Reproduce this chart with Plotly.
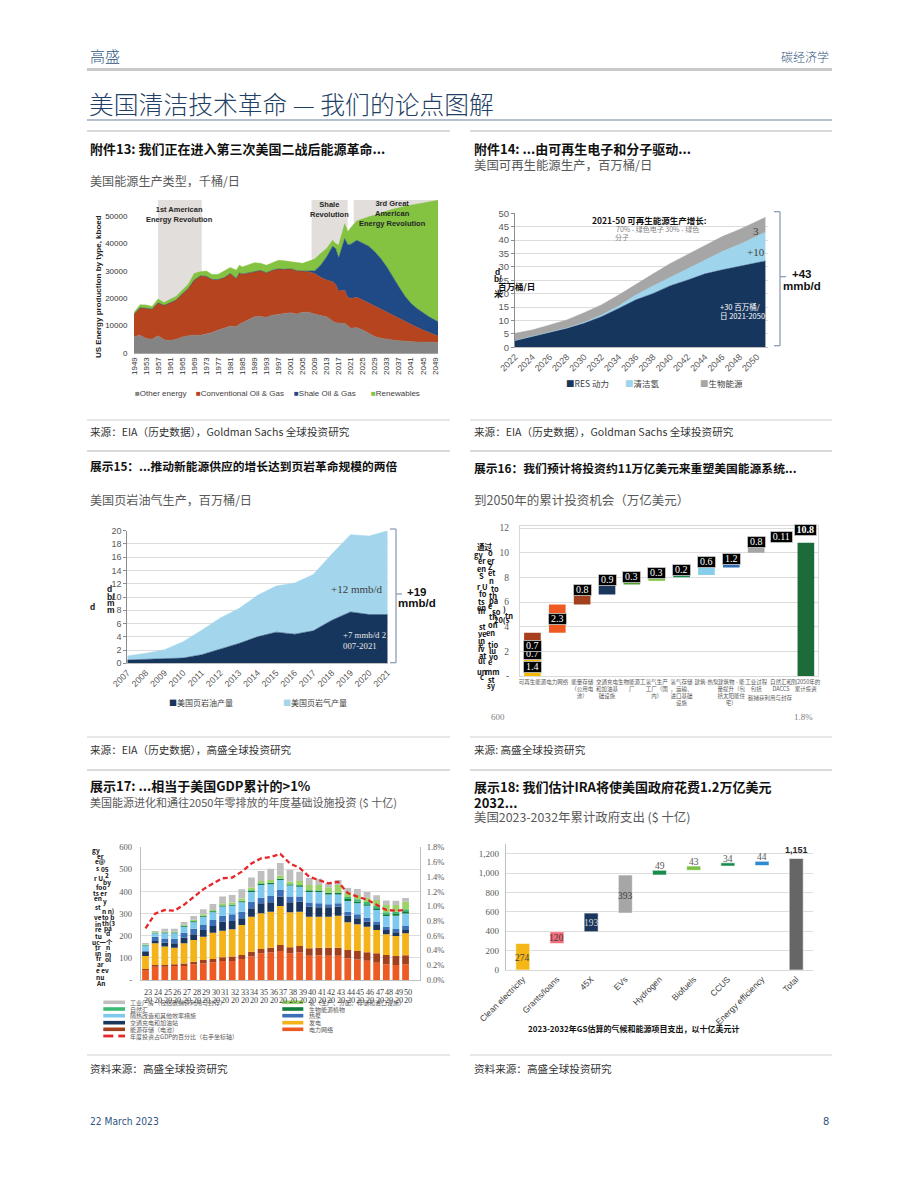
import plotly.graph_objects as go

W, H = 920, 1183
CJK = "Noto Sans CJK SC"
SANS = "Liberation Sans, Arial, sans-serif"
SERIF = "Liberation Serif, DejaVu Serif, serif"
NARROW = "Liberation Sans Narrow, DejaVu Sans Condensed, Roboto Condensed, Liberation Sans, sans-serif"
HDR = "#2f5380"
TITLE = "#1f3f66"
GRAY = "#595959"

# ---------------- Exhibit 13 data (kboed) ----------------
years13 = [1949, 1951, 1953, 1955, 1957, 1959, 1961, 1963, 1965, 1967, 1969, 1971, 1973, 1975, 1977, 1979,
           1981, 1983, 1984, 1985, 1987, 1989, 1991, 1993, 1995, 1997, 1999, 2001, 2003, 2005, 2007, 2009,
           2011, 2013, 2015, 2016, 2017, 2019, 2020, 2021, 2023, 2025, 2027, 2029, 2031, 2033, 2035, 2037,
           2039, 2041, 2043, 2045, 2047, 2049, 2050]
other13 = [6000, 6500, 5300, 5000, 6300, 4800, 4600, 5000, 5800, 6300, 6500, 6500, 6900, 7500, 8400, 9000,
           9800, 9600, 10500, 11000, 12000, 13200, 13300, 13000, 13800, 14200, 14400, 14700, 14200, 14900, 14900, 14200,
           13700, 13200, 11700, 11000, 10900, 10800, 10000, 9000, 9300, 8400, 7200, 6000, 5400, 5000, 4700, 4500,
           4300, 4100, 4000, 4000, 3900, 3900, 3900]
conv13 = [8100, 10000, 11000, 11000, 12000, 12600, 13700, 14300, 15700, 17200, 20100, 21600, 21100, 19300, 18400, 18500,
          19200, 17600, 18700, 17800, 17200, 16400, 16800, 16300, 16400, 16500, 16100, 16000, 15900, 15000, 14700, 14800,
          13900, 13400, 14300, 14000, 11700, 12100, 10300, 10900, 11000, 10900, 11000, 10900, 10400, 9700, 8900, 8100,
          7200, 6300, 5400, 4400, 3700, 2900, 2300]
shale13 = [0, 0, 0, 0, 0, 0, 0, 0, 0, 0, 0, 0, 0, 0, 0, 0,
           0, 0, 0, 0, 0, 0, 0, 0, 0, 0, 0, 0, 0, 0, 300, 950,
           4400, 8400, 12950, 13100, 12100, 18850, 19300, 19800, 20850, 20600, 20750, 20000, 18650, 16700, 13950, 11550,
           9250, 7700, 6850, 6300, 5600, 5200, 5200]
renew13 = [700, 1100, 1200, 1000, 1400, 1000, 1300, 1300, 1400, 1500, 2400, 1500, 1900, 1800, 1900, 2600,
           2200, 3000, 2800, 2600, 2900, 3300, 2600, 2700, 2700, 3100, 3100, 2600, 2800, 2800, 3600, 4300,
           4300, 3100, 2200, 1800, 4600, 5400, 4600, 6000, 7000, 9100, 10700, 13350, 16650, 20400, 24850, 28850,
           32750, 35800, 38100, 40000, 42000, 43700, 44300]
names13 = ["Other energy", "Conventional Oil & Gas", "Shale Oil & Gas", "Renewables"]
colors13 = ["#848484", "#b5441f", "#1f4a86", "#84c341"]
ticks13x = [1949, 1953, 1957, 1961, 1965, 1969, 1973, 1977, 1981, 1985, 1989, 1993, 1997, 2001, 2005, 2009,
            2013, 2017, 2021, 2025, 2029, 2033, 2037, 2041, 2045, 2049]
ticks13y = [0, 10000, 20000, 30000, 40000, 50000]
eras13 = [(1957, 1971.5, "1st American<br>Energy Revolution", 215),
          (2008, 2020, "Shale<br>Revolution", 209.5),
          (2022, 2050, "3rd Great<br>American<br>Energy Revolution", 214)]

# ---------------- Exhibit 14 data (mmb/d) ----------------
years14 = [2022, 2024, 2026, 2028, 2030, 2032, 2034, 2036, 2038, 2040, 2042, 2044, 2046, 2048, 2050, 2051]
res14 = [2.5, 4.0, 5.6, 7.1, 9.0, 11.4, 14.5, 17.7, 20.1, 23.0, 25.1, 27.4, 28.9, 30.3, 31.6, 32.2]
h2_14 = [0, 0, 0, 0.1, 0.3, 0.6, 0.9, 1.8, 2.8, 3.1, 4.4, 5.2, 6.8, 8.1, 9.9, 10.7]
bio14 = [2.7, 2.5, 2.7, 3.0, 3.6, 3.8, 4.1, 3.8, 4.5, 5.2, 5.2, 5.6, 5.6, 5.6, 5.4, 5.6]
names14 = ["RES 动力", "清洁氢", "生物能源"]
colors14 = ["#17365d", "#9fd5ec", "#a6a6a6"]
ticks14x = [2022, 2024, 2026, 2028, 2030, 2032, 2034, 2036, 2038, 2040, 2042, 2044, 2046, 2048, 2050]

# ---------------- Exhibit 15 data (mmb/d) ----------------
years15 = [2007, 2008, 2009, 2010, 2011, 2012, 2013, 2014, 2015, 2016, 2017, 2018, 2019, 2020, 2021]
oil15 = [0.5, 0.6, 0.65, 0.8, 1.3, 2.15, 3.0, 4.0, 4.7, 4.4, 4.9, 6.5, 7.75, 7.35, 7.35]
gas15 = [0.6, 0.9, 1.4, 2.45, 3.7, 4.7, 5.25, 6.25, 6.95, 7.7, 8.5, 10.0, 11.65, 11.85, 12.65]
names15 = ["美国页岩油产量", "美国页岩气产量"]
colors15 = ["#17365d", "#a3d6ec"]

# ---------------- Exhibit 16 data (US$ tn) ----------------
cats16 = ["可再生能源", "电力网络", "能量存储<br>（公用电<br>池）", "交通充电<br>和加油基<br>础设施",
          "生物能源工<br>厂", "氢气生产<br>工厂（国<br>内）", "氢气存储<br>，运输、<br>进口基础<br>设施",
          "建筑-热泵", "建筑物 - 能<br>量提升（包<br>括太阳能住<br>宅）", "工业过程<br>包括",
          "自然汇和<br>DACCS", "到2050年的<br>累计投资"]
renew_parts16 = [1.4, 0.7, 0.7, 0.7]
renew_labels16 = ["1.4", "0.7", "0.7"]
renew_colors16 = ["#f5b800", "#7f5f00", "#4a3a18", "#a8401f"]
base16 = [3.5, 5.8, 6.6, 7.43, 7.73, 8.0, 8.19, 8.8, 10.0, 10.78, 0]
top16 = [5.8, 6.6, 7.4, 7.65, 7.97, 8.19, 8.86, 9.05, 10.5, 10.84, 10.8]
labels16 = ["2.3", "0.8", "0.9", "0.3", "0.3", "0.2", "0.6", "1.2", "0.8", "0.11", "10.8"]
colors16 = ["#f05a22", "#a0401e", "#1b365d", "#4f9e2d", "#7ac143", "#16894a", "#87ceeb", "#2e6db4",
            "#a6a6a6", "#3dbb74", "#1e6b3a"]

# ---------------- Exhibit 17 data (US$ bn) ----------------
years17 = [2023, 2024, 2025, 2026, 2027, 2028, 2029, 2030, 2031, 2032, 2033, 2034, 2035, 2036,
           2037, 2038, 2039, 2040, 2041, 2042, 2043, 2044, 2045, 2046, 2047, 2048, 2049, 2050]
grid17 = [45, 60, 60, 63, 63, 71, 75, 80, 86, 86, 95, 106, 121, 124, 131, 121, 124, 110, 112, 110, 110, 98, 93, 87, 78, 71, 68, 71]
stor17 = [5, 8, 8, 8, 12, 12, 15, 15, 17, 20, 18, 22, 19, 22, 27, 27, 30, 33, 34, 36, 36, 38, 38, 38, 43, 42, 41, 41]
gen17 = [58, 98, 83, 75, 91, 98, 106, 119, 120, 123, 136, 158, 162, 163, 177, 158, 155, 143, 140, 140, 145, 125, 121, 116, 105, 94, 90, 99]
trans17 = [20, 10, 18, 20, 25, 26, 30, 30, 41, 38, 30, 38, 45, 42, 42, 45, 45, 46, 43, 43, 41, 30, 27, 23, 23, 19, 17, 15]
heat17 = [3, 20, 19, 21, 23, 25, 23, 27, 27, 30, 30, 30, 25, 29, 30, 26, 23, 18, 18, 13, 15, 18, 18, 18, 15, 15, 15, 18]
eff17 = [24, 15, 23, 24, 27, 29, 37, 35, 41, 39, 42, 44, 58, 53, 45, 50, 45, 48, 51, 45, 40, 48, 50, 54, 53, 48, 60, 57]
bio17 = [2, 2, 4, 4, 4, 5, 4, 5, 5, 4, 5, 7, 6, 6, 5, 5, 6, 7, 6, 7, 7, 9, 7, 6, 7, 8, 7, 10]
sink17 = [1, 1, 1, 1, 1, 1, 1, 1, 1, 1, 2, 2, 2, 2, 2, 2, 2, 2, 2, 2, 2, 9, 11, 11, 12, 9, 11, 9]
h2_17 = [2, 3, 3, 3, 4, 5, 6, 5, 9, 9, 11, 11, 10, 11, 14, 11, 18, 23, 24, 23, 34, 20, 19, 19, 26, 33, 30, 34]
ind17 = [7, 5, 13, 13, 12, 17, 23, 27, 30, 34, 41, 46, 45, 51, 56, 54, 42, 31, 28, 18, 22, 21, 27, 26, 21, 21, 19, 17]
gdp17 = [0.70, 0.90, 0.95, 0.94, 1.02, 1.13, 1.23, 1.31, 1.38, 1.39, 1.47, 1.58, 1.65, 1.67,
         1.71, 1.58, 1.52, 1.40, 1.36, 1.31, 1.33, 1.18, 1.13, 1.09, 1.02, 0.95, 0.94, 0.95]  # % of GDP
series17 = [("电力网络", grid17, "#ee5a24"), ("能源存储（电池）", stor17, "#a0401e"), ("发电", gen17, "#f3b319"),
            ("交通充电和加油站", trans17, "#1b365d"), ("热泵", heat17, "#3b6fb6"),
            ("隔热改造和其他效率措施", eff17, "#7fc8ee"), ("生物能源植物", bio17, "#0e7c3a"),
            ("自然汇", sink17, "#3dbb74"), ("氢（生产、分配、存储和进口设施）", h2_17, "#9bd366"),
            ("工业厂房（包括碳捕获利用与封存）", ind17, "#bfbfbf")]
ticks17y = [0, 100, 200, 300, 400, 500, 600]
ticks17y2 = [0, 0.2, 0.4, 0.6, 0.8, 1.0, 1.2, 1.4, 1.6, 1.8]

# ---------------- Exhibit 18 data (US$ bn) ----------------
cats18 = ["Clean electricity", "Grants/loans", "45X", "EVs", "Hydrogen", "Biofuels", "CCUS", "Energy efficiency", "Total"]
vals18 = [274, 120, 193, 393, 49, 43, 34, 44, 1151]
base18 = [0, 274, 394, 587, 980, 1029, 1072, 1078, 0]
colors18 = ["#f5b617", "#f26b7a", "#1b365d", "#a6a6a6", "#1a8c4e", "#7ac143", "#1a8c4e", "#2e8bd0", "#666666"]
ticks18y = [0, 200, 400, 600, 800, 1000, 1200]

# ======================================================================
def px(x):
    return x / W

def py(y):
    return 1 - y / H

fig = go.Figure()
ann = []
shapes = []

def T(text, x, y, size=10, color="#222222", family=CJK, xa="left", ya="middle", angle=0, weight=None, **kw):
    f = dict(size=size, color=color, family=family)
    if weight:
        f["weight"] = weight
    d = dict(text=text, x=px(x), y=py(y), xref="paper", yref="paper", showarrow=False,
             xanchor=xa, yanchor=ya, textangle=angle, font=f)
    d.update(kw)
    ann.append(d)

def L(x0, y0, x1, y1, color="#bfbfbf", width=1, dash=None):
    ln = dict(color=color, width=width)
    if dash:
        ln["dash"] = dash
    shapes.append(dict(type="line", xref="paper", yref="paper", x0=px(x0), y0=py(y0),
                       x1=px(x1), y1=py(y1), line=ln))

def R(x0, y0, x1, y1, color):
    shapes.append(dict(type="rect", xref="paper", yref="paper", x0=px(x0), y0=py(y0),
                       x1=px(x1), y1=py(y1), line=dict(width=0), fillcolor=color))

# ---------------- page furniture ----------------
T("高盛", 88, 55, size=15, color=HDR, weight=300)
T("碳经济学", 831, 56, size=12, color=HDR, xa="right", weight=300)
L(87, 69.5, 832, 69.5, color="#c9c9c9", width=3)
T("美国清洁技术革命 — 我们的论点图解", 87, 103, size=24.8, color=TITLE, weight=300)
L(87, 120, 832, 120, color="#6a7f99", width=1.2)
for yy in (131, 451, 770):
    L(87, yy, 450, yy, color="#b4b4b4", width=1)
    L(470, yy, 832, yy, color="#b4b4b4", width=1)
for yy in (420, 737, 1055):
    L(87, yy, 450, yy, color="#d0d0d0", width=1)
    L(470, yy, 832, yy, color="#d0d0d0", width=1)

T("<b>附件13: 我们正在进入第三次美国二战后能源革命...</b>", 88, 149, size=13, color="#111111")
T("美国能源生产类型，千桶/日", 88, 180, size=12.1, color=GRAY)
T("<b>附件14: ...由可再生电子和分子驱动...</b>", 472, 149, size=13, color="#111111")
T("美国可再生能源生产，百万桶/日", 472, 165, size=12.4, color=GRAY)
T("<b>展示15：...推动新能源供应的增长达到页岩革命规模的两倍</b>", 88, 466, size=11.75, color="#111111")
T("美国页岩油气生产，百万桶/日", 88, 499, size=12.1, color=GRAY)
T("<b>展示16：我们预计将投资约11万亿美元来重塑美国能源系统...</b>", 472, 467, size=11.8, color="#111111")
T("到2050年的累计投资机会（万亿美元）", 472, 499, size=12.5, color=GRAY)
T("<b>展示17: ...相当于美国GDP累计的>1%</b>", 88, 785, size=13, color="#111111")
T("美国能源进化和通往2050年零排放的年度基础设施投资 ($ 十亿)", 88, 801.5, size=11, color=GRAY)
T("<b>展示18: 我们估计IRA将使美国政府花费1.2万亿美元</b>", 472, 786, size=13, color="#111111")
T("<b>2032...</b>", 472, 802, size=13, color="#111111")
T("美国2023-2032年累计政府支出 ($ 十亿)", 472, 817.5, size=12.4, color=GRAY)

for sx, sy, st in [(88, 431, "来源：EIA（历史数据），Goldman Sachs 全球投资研究"),
                   (472, 431, "来源：EIA（历史数据），Goldman Sachs 全球投资研究"),
                   (88, 749, "来源：EIA（历史数据），高盛全球投资研究"),
                   (472, 749, "来源: 高盛全球投资研究"),
                   (88, 1068, "资料来源：高盛全球投资研究"),
                   (472, 1068, "资料来源：高盛全球投资研究")]:
    T(st, sx, sy, size=10.6, color="#333333")
T("22 March 2023", 88, 1121, size=10.2, color=HDR, family=NARROW)
T("8", 831, 1121, size=11, color=HDR, family=NARROW, xa="right")

axes = {}
def AX(**kw):
    d = dict(showgrid=False, zeroline=False, showline=False, ticks="", fixedrange=True, automargin=False)
    d.update(kw)
    return d

# ---------------- Exhibit 13 ----------------
for name, vals, col in zip(names13, [other13, conv13, shale13, renew13], colors13):
    fig.add_trace(go.Scatter(x=years13, y=vals, name=name, stackgroup="s13", mode="lines",
                             line=dict(width=0.5, color=col), fillcolor=col,
                             xaxis="x", yaxis="y", showlegend=False, hoverinfo="skip"))
axes["xaxis"] = AX(domain=[px(134), px(438)], range=[1949, 2050], anchor="y", tickmode="array",
                   tickvals=ticks13x, ticktext=[str(t) for t in ticks13x], tickangle=-90,
                   tickfont=dict(size=8, family=SANS, color="#333333"), showline=True, linecolor="#a6a6a6")
axes["yaxis"] = AX(domain=[py(353), py(200)], range=[0, 55800], anchor="x", tickmode="array",
                   tickvals=ticks13y, ticktext=[str(t) for t in ticks13y], ticks="outside", ticklen=4,
                   tickcolor="rgba(0,0,0,0)", tickfont=dict(size=8, family=SANS, color="#333333"))
for x0, x1, lab, ly in eras13:
    shapes.append(dict(type="rect", xref="x", yref="y", x0=x0, x1=x1, y0=0, y1=55800,
                       fillcolor="#e2dedb", line=dict(width=0), layer="below"))
    ann.append(dict(text="<b>" + lab + "</b>", x=(x0 + x1) / 2 if x1 - x0 < 20 else 2035, y=py(ly),
                    xref="x", yref="paper", showarrow=False, xanchor="center", yanchor="middle",
                    font=dict(size=7.5, family=SANS, color="#262626")))
T("<b>US Energy production by type, kboed</b>", 98, 287, size=8, family=SANS, color="#222222",
  xa="center", angle=-90)
leg13x = [133, 194, 292, 369]
for name, col, lx in zip(names13, colors13, leg13x):
    T('<span style="color:%s">■</span>%s' % (col, name), lx, 393, size=8, family=SANS, color="#404040")

# ---------------- Exhibit 14 ----------------
for name, vals, col in zip(names14, [res14, h2_14, bio14], colors14):
    fig.add_trace(go.Scatter(x=years14, y=vals, name=name, stackgroup="s14", mode="lines",
                             line=dict(width=0.5, color=col), fillcolor=col,
                             xaxis="x2", yaxis="y2", showlegend=False, hoverinfo="skip"))
axes["xaxis2"] = AX(domain=[px(515), px(768)], range=[2022, 2051.3], anchor="y2", tickmode="array",
                    tickvals=ticks14x, ticktext=[str(t) for t in ticks14x], tickangle=-45,
                    tickfont=dict(size=9, family=SANS, color=GRAY), showline=True, linecolor="#bfbfbf")
axes["yaxis2"] = AX(domain=[py(347.3), py(213.3)], range=[0, 50], anchor="x2", dtick=5,
                    showgrid=True, gridcolor="#dcdcdc", showline=True, linecolor="#8c8c8c",
                    ticks="outside", ticklen=3, tickcolor="#8c8c8c",
                    tickfont=dict(size=9.5, family=SANS, color=GRAY))
T("<b>2021-50 可再生能源生产增长:</b>", 649, 220.5, size=8.5, xa="center", color="#111111")
T("70% - 绿色电子 30% - 绿色", 657.5, 228.7, size=7, xa="center", color="#7f7f7f")
T("分子", 621.5, 237.3, size=7, xa="center", color="#7f7f7f")
T("3", 756.3, 230.7, size=11, family=SERIF, xa="center", color="#404040")
T("+10", 755.7, 251.7, size=11, family=SERIF, xa="center", color="#404040")
T("+30 百万桶/", 718.3, 306, size=7.5, color="#ffffff")
T("日 2021-2050", 718.3, 315, size=7.5, color="#ffffff")
L(780, 211.7, 780, 345.7, color="#8497b0", width=1.2)
L(774, 211.7, 780, 211.7, color="#8497b0", width=1.2)
L(774, 345.7, 780, 345.7, color="#8497b0", width=1.2)
L(780, 276.7, 786, 276.7, color="#8497b0", width=1.2)
T("<b>+43</b>", 801.7, 274, size=11.5, family=SANS, xa="center", color="#111111")
T("<b>mmb/d</b>", 801.7, 285.5, size=11.5, family=SANS, xa="center", color="#111111")
T("<b>d</b>", 497.3, 271.7, size=8.5, family=SANS, xa="center", color="#111111")
T("<b>b/</b>", 498.5, 279, size=8.5, family=SANS, xa="center", color="#111111")
T("<b>百万桶/日</b>", 496, 286, size=8.5, color="#111111")
T("<b>米</b>", 498.3, 293.3, size=8.5, xa="center", color="#111111")
leg14x = [564, 623, 698]
for name, col, lx in zip(names14, colors14, leg14x):
    T('<span style="color:%s">■</span>%s' % (col, name), lx, 383.3, size=8.5, color="#404040")

# ---------------- Exhibit 15 ----------------
for name, vals, col in zip(names15, [oil15, gas15], colors15):
    fig.add_trace(go.Scatter(x=years15, y=vals, name=name, stackgroup="s15", mode="lines",
                             line=dict(width=0.5, color=col), fillcolor=col,
                             xaxis="x3", yaxis="y3", showlegend=False, hoverinfo="skip"))
axes["xaxis3"] = AX(domain=[px(127.3), px(387.7)], range=[2007, 2021], anchor="y3", tickmode="array",
                    tickvals=years15, ticktext=[str(t) for t in years15], tickangle=-45,
                    tickfont=dict(size=8.8, family=SANS, color=GRAY), showline=True, linecolor="#bfbfbf")
axes["yaxis3"] = AX(domain=[py(663.3), py(530.7)], range=[0, 20], anchor="x3", dtick=2,
                    showgrid=True, gridcolor="#dcdcdc", showline=True, linecolor="#8c8c8c",
                    ticks="outside", ticklen=3, tickcolor="#8c8c8c",
                    tickfont=dict(size=9, family=SANS, color=GRAY))
T("+12 mmb/d", 356.7, 589.3, size=11, family=SERIF, xa="center", color="#404040")
T("+7 mmb/d 2", 340.5, 635.3, size=8.8, family=SERIF, color="#e8e8e8")
T("007-2021", 340.5, 646, size=8.8, family=SERIF, color="#e8e8e8")
L(396, 529, 396, 662.7, color="#8497b0", width=1.2)
L(390, 529, 396, 529, color="#8497b0", width=1.2)
L(390, 662.7, 396, 662.7, color="#8497b0", width=1.2)
L(396, 594, 402, 594, color="#8497b0", width=1.2)
T("<b>+19</b>", 416.7, 591.7, size=11.5, family=SANS, xa="center", color="#111111")
T("<b>mmb/d</b>", 416.7, 603.3, size=11.5, family=SANS, xa="center", color="#111111")
for t, x, y in [("d", 109.5, 589.3), ("b/", 110.5, 596.7), ("m", 110.5, 603.3), ("m", 110.5, 610), ("d", 92, 607.3)]:
    T("<b>%s</b>" % t, x, y, size=8.5, family=SANS, xa="center", color="#111111")
leg15x = [167, 280.5]
for name, col, lx in zip(names15, colors15, leg15x):
    T('<span style="color:%s">■</span>%s' % (col, name), lx, 702.7, size=8, color="#404040")

# ---------------- Exhibit 16 ----------------
rb = []
acc = 0
for v in renew_parts16:
    rb.append(acc)
    acc += v
fig.add_trace(go.Bar(x=[0] * len(renew_parts16), y=renew_parts16, base=rb, width=0.67,
                     marker=dict(color=renew_colors16, line=dict(width=0)),
                     xaxis="x4", yaxis="y4", showlegend=False, hoverinfo="skip"))
xs16 = list(range(1, len(cats16)))
fig.add_trace(go.Bar(x=xs16, y=[t - b for t, b in zip(top16, base16)], base=base16, width=0.67,
                     marker=dict(color=colors16, line=dict(width=0)),
                     xaxis="x4", yaxis="y4", showlegend=False, hoverinfo="skip"))
axes["xaxis4"] = AX(domain=[px(520), px(818.3)], range=[-0.5, len(cats16) - 0.5], anchor="y4",
                    tickmode="array", tickvals=list(range(len(cats16))), ticktext=cats16, tickangle=0,
                    tickfont=dict(size=5.5, family=CJK, color=GRAY),
                    showline=True, mirror=True, linecolor="#d9d9d9")
axes["yaxis4"] = AX(domain=[py(676), py(526.3)], range=[0, 12.14], anchor="x4", tickmode="array",
                    tickvals=[0, 2, 4, 6, 8, 10, 12], ticktext=["-", "2", "4", "6", "8", "10", "12"],
                    showgrid=True, gridcolor="#dcdcdc", showline=True, mirror=True, linecolor="#d9d9d9",
                    ticks="outside", ticklen=8, tickcolor="rgba(0,0,0,0)",
                    tickfont=dict(size=9.5, family=SERIF, color=GRAY))

def box16(x, y, txt, w=16, bold=False):
    ann.append(dict(text=("<b>%s</b>" % txt) if bold else txt, x=x, y=y, xref="x4", yref="y4",
                    showarrow=False, xanchor="center", yanchor="middle", bgcolor="#000000",
                    bordercolor="#cfcfcf", borderwidth=0.8, borderpad=0.5, width=w, height=9,
                    font=dict(size=10, family=SERIF, color="#ffffff")))

for i, txt in enumerate(renew_labels16):
    box16(0, rb[i] + renew_parts16[i] / 2, txt)
for i, (b, t, txt) in enumerate(zip(base16, top16, labels16)):
    xi = xs16[i]
    if i == 0:
        yl = (b + t) / 2
    elif xi == len(cats16) - 1:
        yl = t + 1.0
    else:
        yl = t + 0.4
    box16(xi, yl, txt, w=20 if len(txt) > 3 else 16, bold=(xi == len(cats16) - 1))
T("碳捕获利用与封存", 770, 698.3, size=5.5, xa="center", color=GRAY)
T("600", 498.3, 716.7, size=9, family=SERIF, xa="center", color="#7f7f7f")
T("1.8%", 803.3, 716.7, size=9, family=SERIF, xa="center", color="#7f7f7f")
garble16 = [("通过", 485, 546.7), ("gy", 479.3, 554.3), ("o", 490, 552.3), ("er", 481.7, 560.7),
            ("er", 490.7, 560.7), ("Z", 490.7, 566.7), ("en", 481, 568.3), ("et", 491.7, 572.3),
            ("S", 481, 575), ("n", 491, 580), ("r U", 482.7, 586.7), ("to", 495, 588.3),
            ("fo", 483.3, 593.3), ("th", 493.3, 595), ("ts", 481, 601.7), ("pa", 493.3, 601),
            ("e", 490.7, 605), ("en", 481.7, 607.3), ("so", 496.7, 611), ("m", 481.7, 610.7),
            (")", 504.3, 608.3), ("th", 493.3, 616.7), ("tn", 509, 615), ("20(s", 501.7, 619.3),
            ("st", 482.7, 626), ("on", 493.3, 624), ("ve", 482.7, 633.3), ("en", 490, 632.7),
            ("in", 481.7, 640), ("tio", 493.3, 644.3), ("e", 481.7, 644), ("lu", 492.7, 650),
            ("iv", 481.7, 648.7), ("vo", 493.3, 656.7), ("at", 482.7, 655), ("ul", 481.7, 660.7),
            ("e", 490.7, 661.7), ("un", 481.7, 671.7), ("mm", 491.7, 671.7), ("c", 481.7, 676.7),
            ("st", 491.7, 679.3), ("sy", 491.7, 685)]
for t, x, y in garble16:
    T("<b>%s</b>" % t, x, y, size=7.5, xa="center", color="#111111")

# ---------------- Exhibit 17 ----------------
xs17 = list(range(len(years17)))
run = [0] * len(years17)
for name, vals, col in series17:
    fig.add_trace(go.Bar(x=xs17, y=vals, base=list(run), width=0.7, name=name,
                         marker=dict(color=col, line=dict(width=0)),
                         xaxis="x5", yaxis="y5", showlegend=False, hoverinfo="skip"))
    run = [r + v for r, v in zip(run, vals)]
fig.add_trace(go.Scatter(x=xs17, y=[g / 100 for g in gdp17], mode="lines",
                         line=dict(color="#e8262a", width=2.3, dash="5px,3px"),
                         xaxis="x5", yaxis="y6", showlegend=False, hoverinfo="skip"))
axes["xaxis5"] = AX(domain=[px(140.7), px(420)], range=[-0.5, len(years17) + 0.5], anchor="y5",
                    showticklabels=False, showline=True, linecolor="#bfbfbf")
axes["yaxis5"] = AX(domain=[py(980), py(847.3)], range=[0, 600], anchor="x5", tickmode="array",
                    tickvals=ticks17y, ticktext=["-"] + [str(t) for t in ticks17y[1:]],
                    showgrid=True, gridcolor="#dcdcdc", showline=True, linecolor="#bfbfbf",
                    ticks="outside", ticklen=6, tickcolor="rgba(0,0,0,0)",
                    tickfont=dict(size=8.5, family=SERIF, color=GRAY))
axes["yaxis6"] = AX(overlaying="y5", side="right", anchor="x5", range=[0, 0.018], tickmode="array",
                    tickvals=[t / 100 for t in ticks17y2], ticktext=["%.1f%%" % t for t in ticks17y2],
                    showline=True, linecolor="#bfbfbf", ticks="outside", ticklen=4,
                    tickcolor="rgba(0,0,0,0)", tickfont=dict(size=8.5, family=SERIF, color=GRAY))
for i, yr in enumerate(years17):
    ann.append(dict(text=str(yr)[2:], x=i + 0.3, y=py(992.3), xref="x5", yref="paper", showarrow=False,
                    xanchor="center", yanchor="middle", font=dict(size=8.2, family=SERIF, color="#404040")))
    ann.append(dict(text=str(yr)[:2], x=i + 0.3, y=py(1000), xref="x5", yref="paper", showarrow=False,
                    xanchor="center", yanchor="middle", font=dict(size=8.2, family=SERIF, color="#404040")))
leg_left = [series17[9], series17[7], series17[5], series17[3], series17[1]]
leg_right = [series17[8], series17[6], series17[4], series17[2], series17[0]]
rows17 = [1002.3, 1009, 1015.7, 1022.7, 1029.3, 1036]
for (name, _, col), ry in zip(leg_left, rows17):
    R(103.3, ry - 1.8, 125, ry + 1.8, col)
    T(name, 127.5, ry, size=6, color=GRAY)
for (name, _, col), ry in zip(leg_right, rows17):
    R(282.3, ry - 1.8, 303.3, ry + 1.8, col)
    T(name, 306.7, ry, size=6, color=GRAY)
R(103.3, rows17[5] - 1.4, 113.3, rows17[5] + 1.4, "#e8262a")
R(118.3, rows17[5] - 1.4, 125, rows17[5] + 1.4, "#e8262a")
T("年度投资占GDP的百分比（右手坐标轴）", 127.5, rows17[5], size=6, color=GRAY)
garble17 = [("gy", 96, 850), ("er", 100, 856), ("e@", 100, 861), ("s", 97.3, 868.3), ("05", 105, 869.3),
            ("2", 106.7, 875), ("r U", 98.3, 878.3), ("by", 106.7, 881.7), ("foo", 101, 886.7),
            ("ts er", 100, 892.7), ("en", 98.3, 897.7), ("y", 105, 901), ("st", 98.3, 907.3),
            ("n n)", 108, 910.7), ("ve", 98.3, 916.7), ("to b", 108.3, 916.7), ("in", 98.3, 924),
            ("th(3", 108.3, 922.7), ("re", 98.3, 929.3), ("pa", 108.3, 928.3), ("tu", 98.3, 936),
            ("d", 108.3, 933.3), ("uc一个", 102, 941.7), ("tr", 98.3, 946.7), ("n", 108.3, 946.7),
            ("in", 98.3, 952.7), ("in", 108.3, 954.3), ("fr", 98.3, 957.7), ("ol", 108.3, 959.3),
            ("ar", 100, 964.3), ("e ev", 102, 970), ("nu", 100, 976.7), ("An", 100, 983.3)]
for t, x, y in garble17:
    T("<b>%s</b>" % t, x, y, size=6.5, xa="center", color="#111111")

# ---------------- Exhibit 18 ----------------
xs18 = list(range(len(cats18)))
fig.add_trace(go.Bar(x=xs18, y=vals18, base=base18, width=0.41,
                     marker=dict(color=colors18, line=dict(width=0.6, color="#ffffff")),
                     xaxis="x6", yaxis="y7", showlegend=False, hoverinfo="skip"))
axes["xaxis6"] = AX(domain=[px(505.7), px(813.3)], range=[-0.5, len(cats18) - 0.5], anchor="y7",
                    tickmode="array", tickvals=xs18, ticktext=cats18, tickangle=-45,
                    tickfont=dict(size=8.5, family=SANS, color="#404040"),
                    showline=True, linecolor="#d9d9d9")
axes["yaxis7"] = AX(domain=[py(970), py(844)], range=[0, 1300], anchor="x6", tickmode="array",
                    tickvals=ticks18y, ticktext=["{:,}".format(t) for t in ticks18y],
                    showgrid=True, gridcolor="#dcdcdc", showline=True, linecolor="#bfbfbf",
                    ticks="outside", ticklen=4, tickcolor="rgba(0,0,0,0)",
                    tickfont=dict(size=9, family=SERIF, color=GRAY))
inside_col = {0: "#404040", 1: "#404040", 2: "#d9d9d9", 3: "#404040"}
for i, (v, b) in enumerate(zip(vals18, base18)):
    if i in inside_col:
        ann.append(dict(text="{:,}".format(v), x=i, y=b + v * 0.45, xref="x6", yref="y7", showarrow=False,
                        xanchor="center", yanchor="middle",
                        font=dict(size=9.5, family=SERIF, color=inside_col[i])))
    elif i == len(vals18) - 1:
        ann.append(dict(text="<b>{:,}</b>".format(v), x=i, y=b + v, xref="x6", yref="y7", showarrow=False,
                        xanchor="center", yanchor="bottom", yshift=1,
                        font=dict(size=9, family=SANS, color="#262626")))
    else:
        ann.append(dict(text="{:,}".format(v), x=i, y=b + v, xref="x6", yref="y7", showarrow=False,
                        xanchor="center", yanchor="bottom", yshift=-3,
                        font=dict(size=9.5, family=SERIF, color="#595959")))
T("<b>2023-2032年GS估算的气候和能源项目支出，以十亿美元计</b>", 633.3, 1028.3, size=8, xa="center",
  color="#111111")

fig.update_layout(width=W, height=H, margin=dict(l=0, r=0, t=0, b=0, autoexpand=False),
                  paper_bgcolor="#ffffff", plot_bgcolor="#ffffff", barmode="overlay", showlegend=False,
                  annotations=ann, shapes=shapes, font=dict(family=CJK), **axes)
fig.write_html("out.html", config={"displayModeBar": False, "staticPlot": True},
               post_script="document.body.style.margin='0px';document.body.style.padding='0px';")
